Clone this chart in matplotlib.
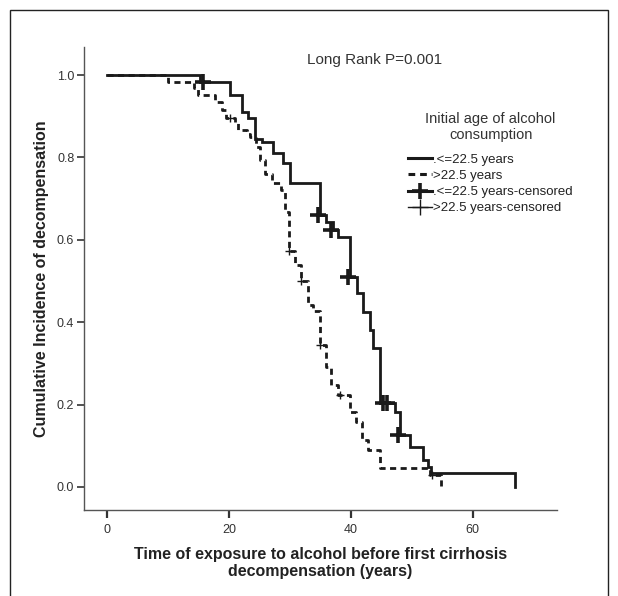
import matplotlib
matplotlib.use("Agg")
import matplotlib.pyplot as plt
from matplotlib.lines import Line2D
from matplotlib.patches import Rectangle

plt.rcParams['font.family'] = ['Liberation Sans', 'DejaVu Sans']

# step data (time in years, cumulative value)
solid_t = [0, 15.2, 20.2, 22.1, 23.2, 24.3, 25.5, 27.2, 28.9, 30.0, 34.9, 36.0, 37.1, 37.9,
           39.8, 41.0, 42.0, 43.1, 43.7, 44.75, 47.2, 48.0, 49.7, 51.9, 52.7, 53.2, 66.9]
solid_s = [1.0, 0.984, 0.951, 0.911, 0.895, 0.846, 0.838, 0.81, 0.787, 0.737, 0.660, 0.644, 0.624, 0.606,
           0.510, 0.470, 0.425, 0.381, 0.337, 0.204, 0.181, 0.126, 0.096, 0.066, 0.049, 0.033, 0.0]
solid_cens_t = [15.8, 34.6, 36.8, 39.6, 45.2, 45.9, 47.8]
solid_cens_s = [0.984, 0.660, 0.624, 0.510, 0.204, 0.204, 0.126]

dash_t = [0, 10.0, 14.2, 15.0, 17.7, 18.8, 19.6, 21.0, 21.5, 22.9, 23.4, 24.5, 25.1, 25.9, 27.0,
          28.6, 29.2, 29.8, 30.8, 31.9, 33.0, 33.8, 34.9, 36.0, 36.8, 37.9, 39.8, 40.9, 41.8,
          42.8, 44.75, 53.0, 54.8]
dash_s = [1.0, 0.984, 0.968, 0.951, 0.935, 0.915, 0.895, 0.883, 0.867, 0.858, 0.850, 0.826, 0.794, 0.761, 0.737,
          0.721, 0.668, 0.573, 0.539, 0.500, 0.442, 0.426, 0.345, 0.292, 0.248, 0.223, 0.183, 0.158, 0.114,
          0.090, 0.045, 0.029, 0.0]
dash_cens_t = [20.2, 29.9, 31.9, 34.9, 38.2, 53.4]
dash_cens_s = [0.895, 0.573, 0.500, 0.345, 0.223, 0.029]

labels = ['.<=22.5 years', '>22.5 years', '.<=22.5 years-censored', '>22.5 years-censored']
xticks = [0, 20, 40, 60]
yticks = [0.0, 0.2, 0.4, 0.6, 0.8, 1.0]

ink = '#1a1a1a'
dash_style = (0, (2.2, 1.6))

fig = plt.figure(figsize=(6.18, 5.96), dpi=100)
ax = fig.add_axes([0.136, 0.1443, 0.765, 0.7767])

ax.step(solid_t, solid_s, where='post', color=ink, lw=2.0, solid_joinstyle='miter')
ax.step(dash_t, dash_s, where='post', color=ink, lw=2.0, linestyle=dash_style)
ax.plot(solid_cens_t, solid_cens_s, linestyle='none', marker='+', color=ink, markersize=11, mew=2.6)
ax.plot(dash_cens_t, dash_cens_s, linestyle='none', marker='+', color=ink, markersize=6, mew=1.0)

ax.set_xlim(-3.77, 73.8)
ax.set_ylim(-0.056, 1.068)
ax.set_xticks(xticks)
ax.set_yticks(yticks)
ax.set_xticklabels([str(v) for v in xticks])
ax.set_yticklabels(['%.1f' % v for v in yticks])
ax.spines['top'].set_visible(False)
ax.spines['right'].set_visible(False)
for s in ['left', 'bottom']:
    ax.spines[s].set_color('#555555')
    ax.spines[s].set_linewidth(1.0)
ax.tick_params(axis='x', direction='out', length=6, width=1.6, color='#333333', labelsize=9,
               labelcolor='#333333', pad=4)
ax.tick_params(axis='y', direction='out', length=5, width=1.2, color='#333333', labelsize=9,
               labelcolor='#333333', pad=2)

ax.set_xlabel('Time of exposure to alcohol before first cirrhosis\ndecompensation (years)',
              fontsize=11.5, fontweight='bold', color='#222222', labelpad=8, linespacing=1.2)
ax.set_ylabel('Cumulative Incidence of decompensation', fontsize=11.5, fontweight='bold',
              color='#222222', labelpad=6)

fig.text(375 / 618, 1 - 60 / 596, 'Long Rank P=0.001', fontsize=11, color='#333333',
         ha='center', va='center')

handles = [
    Line2D([0], [0], color=ink, lw=2.2),
    Line2D([0], [0], color=ink, lw=2.2, linestyle=dash_style),
    Line2D([0], [0], color=ink, lw=2.2, marker='+', markersize=12, mew=2.6),
    Line2D([0], [0], color=ink, lw=1.0, marker='+', markersize=12, mew=1.0),
]
leg = ax.legend(handles, labels, title='Initial age of alcohol\nconsumption', frameon=False,
                loc='upper left', bbox_to_anchor=(399 / 618, 1 - 103 / 596),
                bbox_transform=fig.transFigure, fontsize=9.5, title_fontsize=10.5,
                handlelength=1.8, handletextpad=0.1, labelspacing=0.3, borderpad=0.2)
leg.get_title().set_color('#333333')
leg.get_title().set_multialignment('center')
leg._legend_box.sep = 8
for t in leg.get_texts():
    t.set_color('#222222')

fig.add_artist(Rectangle((10 / 618, -0.01), 598 / 618, 1 - 10 / 596 + 0.01, transform=fig.transFigure,
                         fill=False, edgecolor='#222222', lw=1.0))

fig.savefig('out.png', dpi=100)
